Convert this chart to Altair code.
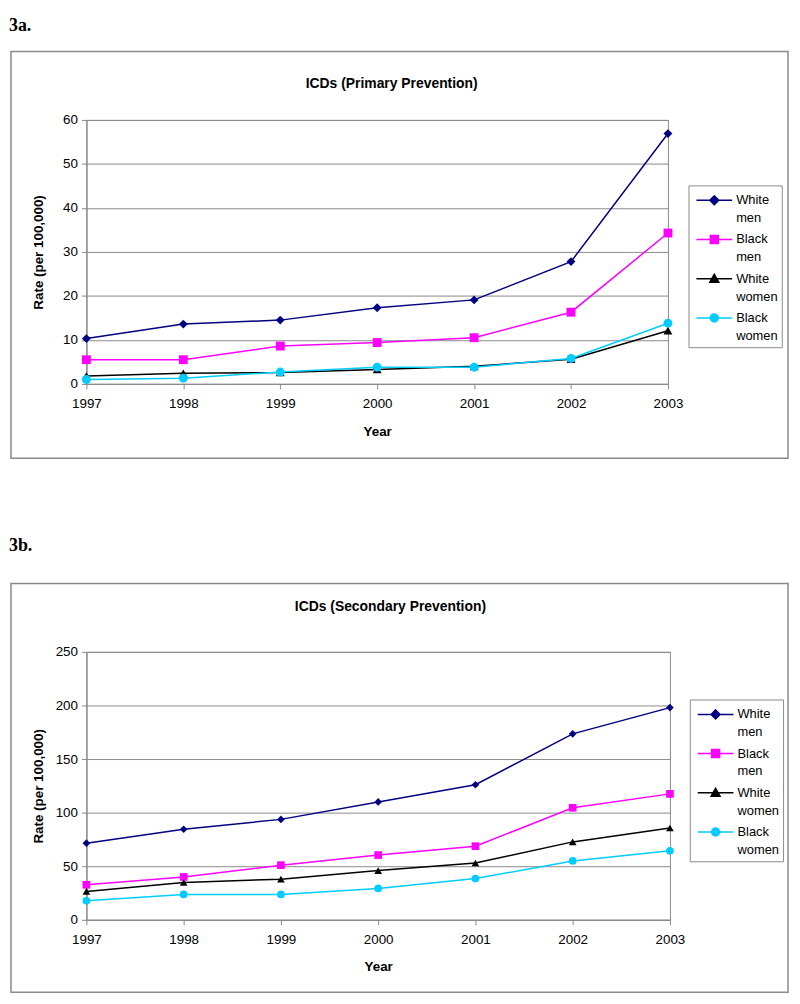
import altair as alt
import pandas as pd

years = [1997, 1998, 1999, 2000, 2001, 2002, 2003]
series = ["White men", "Black men", "White women", "Black women"]
colors = ["#000080", "#ff00ff", "#000000", "#00ccff"]
marker_shapes = ["diamond", "square", "triangle-up", "circle"]

# Panel 3a: ICDs (Primary Prevention)
primary_white_men = [10.3, 13.6, 14.5, 17.3, 19.1, 27.8, 56.9]
primary_black_men = [5.5, 5.5, 8.6, 9.4, 10.5, 16.3, 34.3]
primary_white_women = [1.8, 2.4, 2.6, 3.3, 4.0, 5.6, 12.1]
primary_black_women = [1.0, 1.3, 2.7, 3.8, 3.8, 5.8, 13.8]

# Panel 3b: ICDs (Secondary Prevention)
secondary_white_men = [71.5, 84.5, 93.7, 110.0, 126.0, 173.5, 198.0]
secondary_black_men = [32.7, 40.0, 51.0, 60.4, 68.7, 104.5, 117.5]
secondary_white_women = [26.5, 34.8, 37.9, 45.9, 53.0, 72.7, 85.7]
secondary_black_women = [17.8, 23.7, 23.7, 29.3, 38.5, 54.9, 64.4]

# legend symbols: a line with the series marker on it (Excel style)
legend_paths = [
    "M-1.8,0H1.8M0,-0.45L0.45,0L0,0.45L-0.45,0Z",
    "M-1.8,0H1.8M-0.4,-0.4H0.4V0.4H-0.4Z",
    "M-1.8,0H1.8M0,-0.45L0.45,0.35L-0.45,0.35Z",
    "M-1.8,0H1.8M0.4,0A0.4,0.4 0 1,1 -0.4,0A0.4,0.4 0 1,1 0.4,0Z",
]

# line/marker colour scale (alphabetical domain, so it stays separate from the legend scales)
color_domain = sorted(series)
color_range = [colors[series.index(s)] for s in color_domain]

FONT = "Liberation Sans"
GRAY = "#8a8a8a"
OX = 86  # common left edge of both plot areas (page px)


def long_df(vals_list):
    rows = []
    for s, vals in zip(series, vals_list):
        for yr, v in zip(years, vals):
            rows.append({"Year": yr, "Rate": v, "Series": s})
    return pd.DataFrame(rows)


def text_layer(txt, x, y, size, weight, font, baseline="alphabetic"):
    return alt.Chart(pd.DataFrame({"t": [txt]})).mark_text(
        align="left", baseline=baseline, fontSize=size, fontWeight=weight, font=font, color="black"
    ).encode(text="t:N", x=alt.value(x), y=alt.value(y))


def rect_layer(x1, x2, y1, y2, stroke, opacity):
    return alt.Chart(pd.DataFrame({"r": [0]})).mark_rect(
        fillOpacity=0, stroke=stroke, strokeWidth=1.5, strokeOpacity=opacity
    ).encode(x=alt.value(x1), x2=alt.value(x2), y=alt.value(y1), y2=alt.value(y2))


def panel(df, tag, title, ymax, ystep, oy, size, box, title_x, title_y, tag_y, tag_baseline,
          legend_xy, marker_size, slot_y):
    ox = OX
    w, h = size
    x = alt.X("Year:Q", scale=alt.Scale(domain=[1997, 2003], nice=False, zero=False),
              axis=alt.Axis(values=years, format="d", title="Year", grid=False,
                            labelPadding=8, titlePadding=14, labelFlush=False,
                            labelFontSize=13.5, labelFont=FONT))
    y = alt.Y("Rate:Q", scale=alt.Scale(domain=[0, ymax], nice=False),
              axis=alt.Axis(values=list(range(0, ymax + 1, ystep)), title="Rate (per 100,000)",
                            grid=True, labelPadding=4, titleX=38 - ox, titleBaseline="middle",
                            labelFontSize=13.5, labelFont=FONT))
    color = alt.Color("Series:N", scale=alt.Scale(domain=color_domain, range=color_range), legend=None)

    lines = alt.Chart(df).mark_line(strokeWidth=1.5).encode(x=x, y=y, color=color)
    pts = [
        alt.Chart(df).transform_filter(alt.datum.Series == s).mark_point(
            shape=sh, filled=True, size=marker_size, opacity=1
        ).encode(x=x, y=y, color=color)
        for s, sh in zip(series, marker_shapes)
    ]
    leg = alt.Legend(
        title=None, orient="none", legendX=legend_xy[0], legendY=legend_xy[1],
        labelExpr="split(datum.label, ' ')", strokeColor=GRAY, padding=4,
        rowPadding=3.5, symbolOffset=11, labelOffset=11, labelFont=FONT, labelFontSize=13,
        labelColor="black", symbolStrokeWidth=1.5, symbolSize=400, labelBaseline="middle",
        labelLimit=0,
    )
    legend_layer = alt.Chart(df).transform_filter("false").mark_point(
        filled=True, size=400, opacity=1
    ).encode(
        x=x, y=y,
        fill=alt.Fill("Series:N", scale=alt.Scale(domain=series, range=colors), legend=leg),
        stroke=alt.Stroke("Series:N", scale=alt.Scale(domain=series, range=colors), legend=leg),
        shape=alt.Shape("Series:N", scale=alt.Scale(domain=series, range=legend_paths), legend=leg),
    )

    slot = rect_layer(8 - ox, 796 - ox, slot_y[0] - oy, slot_y[1] - oy, "white", 0)
    border = rect_layer(box[0] - ox, box[1] - ox, box[2] - oy, box[3] - oy, GRAY, 1)
    tag_t = text_layer(tag, 8 - ox, tag_y - oy, 18, "bold", "Liberation Serif", tag_baseline)
    title_t = text_layer(title, title_x - ox, title_y - oy, 14, "bold", FONT)

    return alt.layer(slot, border, lines, *pts, legend_layer, tag_t, title_t).properties(
        width=w, height=h
    )


top = panel(
    long_df([primary_white_men, primary_black_men, primary_white_women, primary_black_women]),
    "3a.", "ICDs (Primary Prevention)", 60, 10,
    oy=116, size=(586, 266), box=(10, 793, 47, 457),
    title_x=307, title_y=84, tag_y=12, tag_baseline="top",
    legend_xy=(692.7 - OX, 182 - 116), marker_size=80,
    slot_y=(8, 470),
)
bottom = panel(
    long_df([secondary_white_men, secondary_black_men, secondary_white_women, secondary_black_women]),
    "3b.", "ICDs (Secondary Prevention)", 250, 50,
    oy=650, size=(588, 270), box=(10, 793, 581, 993),
    title_x=296, title_y=609, tag_y=548, tag_baseline="alphabetic",
    legend_xy=(694 - OX, 698 - 650), marker_size=60,
    slot_y=(470, 994),
)

chart = alt.vconcat(top, bottom, spacing=0).resolve_scale(
    color="independent", fill="independent", stroke="independent", shape="independent"
).resolve_legend(
    color="independent", fill="independent", stroke="independent", shape="independent"
).properties(padding=0).configure(
    style={"guide-label": {"lineHeight": 18, "fontSize": 13.5, "font": FONT}}
).configure_view(
    stroke=GRAY, strokeWidth=1
).configure_axis(
    labelFont=FONT, labelFontSize=13.5, labelColor="black",
    titleFont=FONT, titleFontSize=13.5, titleFontWeight="bold", titleColor="black",
    domainColor=GRAY, tickColor=GRAY, gridColor=GRAY, tickSize=5, domainWidth=1.2,
)

chart.save("out.html", embed_options={"renderer": "svg", "actions": False})
